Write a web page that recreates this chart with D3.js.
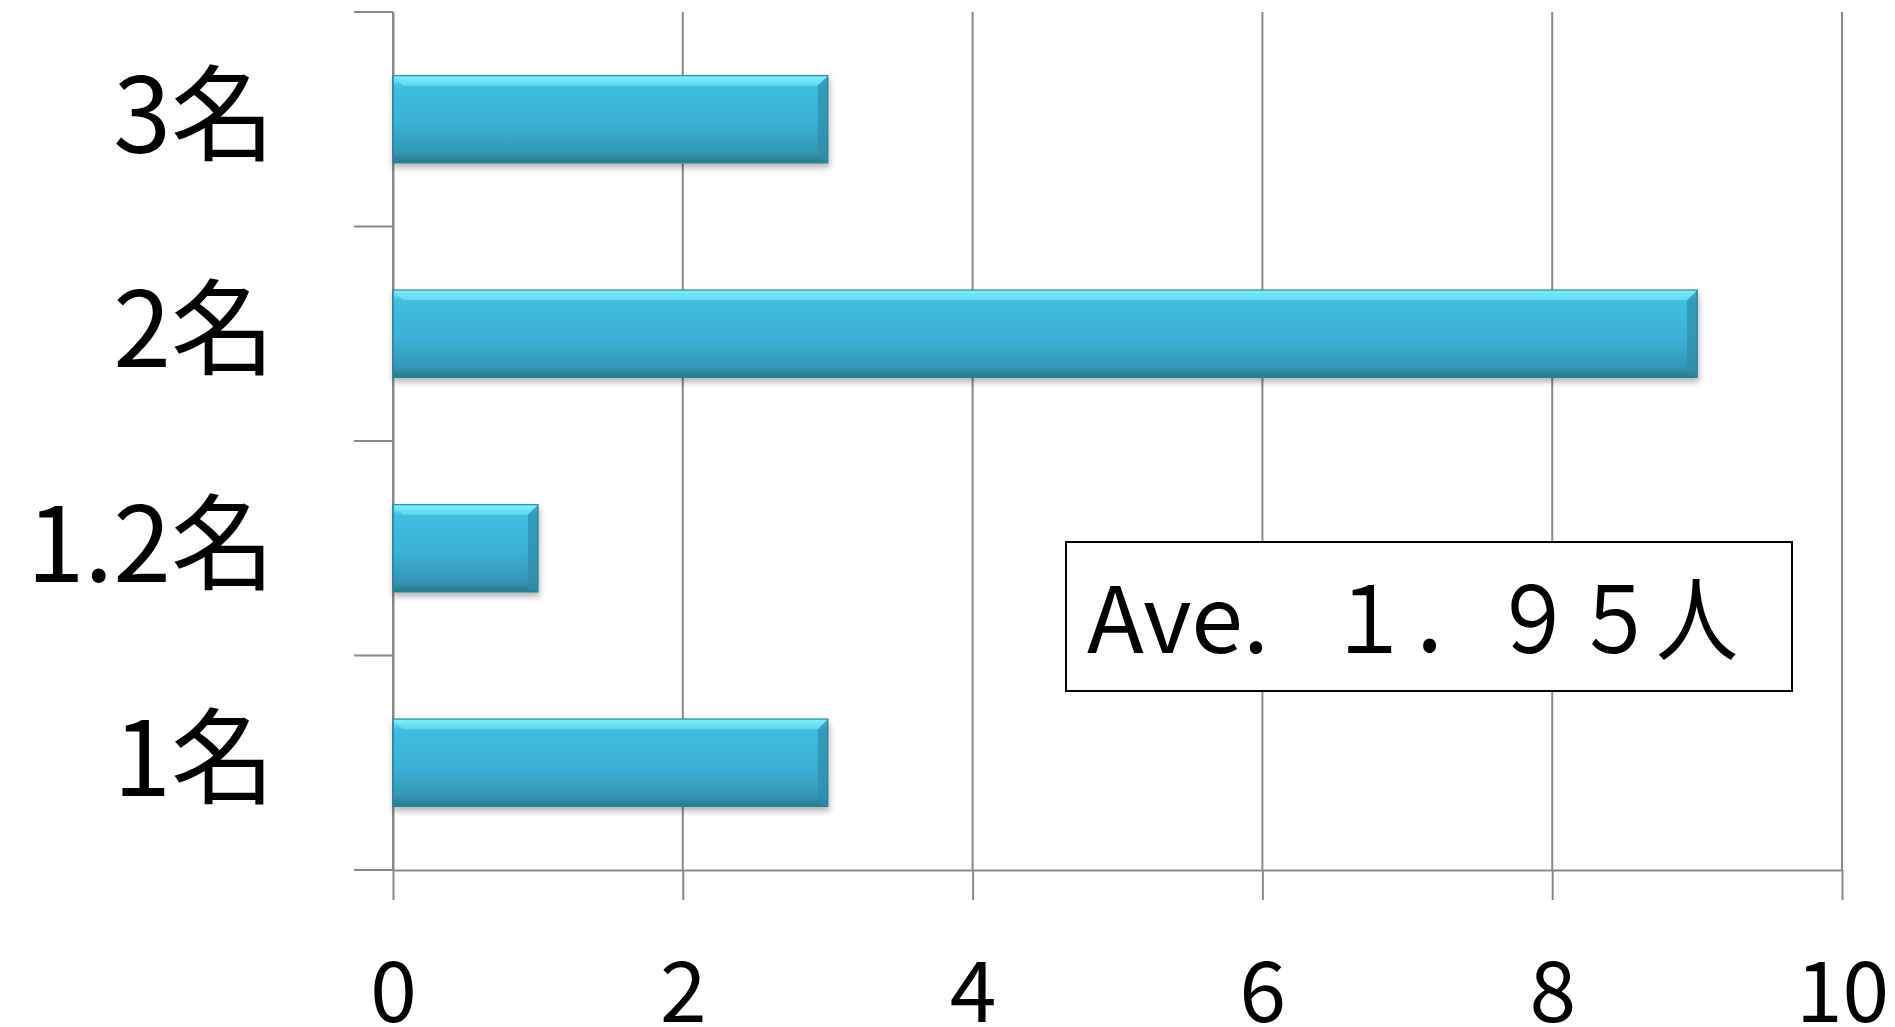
<!DOCTYPE html>
<html>
<head>
<meta charset="utf-8">
<script src="https://cdn.jsdelivr.net/npm/d3@7"></script>
<style>
  html, body { margin: 0; padding: 0; background: #fff; }
  svg { display: block; }
</style>
</head>
<body>
<div id="chart"></div>
<script>
"use strict";

// data (top to bottom)
var categories = ["3名", "2名", "1.2名", "1名"];
var counts = [3, 9, 1, 3];
var xTicks = [0, 2, 4, 6, 8, 10];
var noteLabel = "Ave.";
var noteValue = "１．９５人";

var W = 1895, H = 1027;
var plotLeft = 393, plotRight = 1842, plotTop = 12, plotBottom = 870;
var font = "'Noto Sans CJK JP', 'Noto Sans', sans-serif";
var gridColor = "#898989";

var svg = d3.select("#chart").append("svg")
    .attr("width", W)
    .attr("height", H);

// gradient + shadow for the bevelled bars
var defs = svg.append("defs");
var grad = defs.append("linearGradient")
    .attr("id", "barFill")
    .attr("x1", 0).attr("y1", 0).attr("x2", 0).attr("y2", 1);
[["0%", "#86F2FD"], ["7%", "#5AD3EE"], ["12%", "#3FBEDF"],
 ["55%", "#3AB2D4"], ["88%", "#3497B6"], ["100%", "#2A7889"]].forEach(function (s) {
    grad.append("stop").attr("offset", s[0]).attr("stop-color", s[1]);
});
var shadow = defs.append("filter").attr("id", "shadow")
    .attr("x", "-5%").attr("y", "-20%").attr("width", "110%").attr("height", "150%");
shadow.append("feDropShadow")
    .attr("dx", 1).attr("dy", 4).attr("stdDeviation", 3)
    .attr("flood-color", "#000").attr("flood-opacity", 0.3);

var x = d3.scaleLinear().domain([0, 10]).range([plotLeft, plotRight]);
var y = d3.scaleBand().domain(categories).range([plotTop, plotBottom])
    .paddingInner(0.594).paddingOuter(0.297);

//vertical gridlines
svg.append("g").selectAll("line")
    .data(xTicks)
    .enter().append("line")
    .attr("x1", function (d) { return x(d); })
    .attr("x2", function (d) { return x(d); })
    .attr("y1", plotTop)
    .attr("y2", plotBottom)
    .attr("stroke", gridColor)
    .attr("stroke-width", 2);

//category boundary ticks on the left
var step = y.step();
svg.append("g").selectAll("line")
    .data(d3.range(categories.length + 1))
    .enter().append("line")
    .attr("x1", plotLeft - 39)
    .attr("x2", plotLeft)
    .attr("y1", function (i) { return plotTop + i * step; })
    .attr("y2", function (i) { return plotTop + i * step; })
    .attr("stroke", gridColor)
    .attr("stroke-width", 2);

//bottom axis
var xAxis = svg.append("g")
    .attr("transform", "translate(0," + plotBottom + ")")
    .call(d3.axisBottom(x).tickValues(xTicks).tickSize(30).tickSizeOuter(0).tickPadding(62));
xAxis.select(".domain").attr("stroke", gridColor).attr("stroke-width", 2);
xAxis.selectAll(".tick line").attr("stroke", gridColor).attr("stroke-width", 2);
xAxis.selectAll("text")
    .style("font-family", font)
    .style("font-size", "84px")
    .attr("fill", "#000");

//left axis labels
var yAxis = svg.append("g")
    .attr("transform", "translate(" + plotLeft + ",0)")
    .call(d3.axisLeft(y).tickSize(0).tickSizeOuter(0).tickPadding(118));
yAxis.select(".domain").attr("stroke", gridColor).attr("stroke-width", 2);
yAxis.selectAll("text")
    .style("font-family", font)
    .style("font-size", "104px")
    .attr("fill", "#000");

//bars
var bars = svg.append("g").selectAll("g")
    .data(categories)
    .enter().append("g")
    .attr("filter", "url(#shadow)");

bars.append("rect")
    .attr("x", x(0))
    .attr("y", function (d) { return y(d); })
    .attr("width", function (d, i) { return x(counts[i]) - x(0); })
    .attr("height", y.bandwidth())
    .attr("fill", "url(#barFill)")
    .attr("stroke", "#2C8196")
    .attr("stroke-width", 1.5);

// bevel: dark right edge
bars.append("path")
    .attr("d", function (d, i) {
        var x1 = x(counts[i]), y0 = y(d), h = y.bandwidth();
        return "M" + x1 + "," + y0 + "L" + (x1 - 10) + "," + (y0 + 10) +
               "L" + (x1 - 10) + "," + (y0 + h - 3) + "L" + x1 + "," + (y0 + h) + "Z";
    })
    .attr("fill", "#2F8CA8")
    .attr("opacity", 0.7);

// bevel: light top edge
bars.append("path")
    .attr("d", function (d, i) {
        var x0 = x(0), x1 = x(counts[i]), y0 = y(d);
        return "M" + x0 + "," + y0 + "L" + x1 + "," + y0 +
               "L" + (x1 - 10) + "," + (y0 + 10) + "L" + (x0 + 10) + "," + (y0 + 10) + "Z";
    })
    .attr("fill", "#7AEBFA")
    .attr("opacity", 0.55);

//average note
var note = svg.append("g");
note.append("rect")
    .attr("x", 1066)
    .attr("y", 542)
    .attr("width", 726)
    .attr("height", 149)
    .attr("fill", "#fff")
    .attr("stroke", "#000")
    .attr("stroke-width", 2);
var noteText = note.append("text")
    .attr("y", 653)
    .style("font-family", font)
    .style("font-size", "92px")
    .attr("fill", "#000");
noteText.append("tspan")
    .attr("x", 1087)
    .attr("textLength", 182)
    .attr("lengthAdjust", "spacingAndGlyphs")
    .text(noteLabel);
noteText.append("tspan").text("　");
noteText.append("tspan")
    .attr("x", 1328)
    .attr("textLength", 410)
    .attr("lengthAdjust", "spacingAndGlyphs")
    .text(noteValue);
</script>
</body>
</html>
